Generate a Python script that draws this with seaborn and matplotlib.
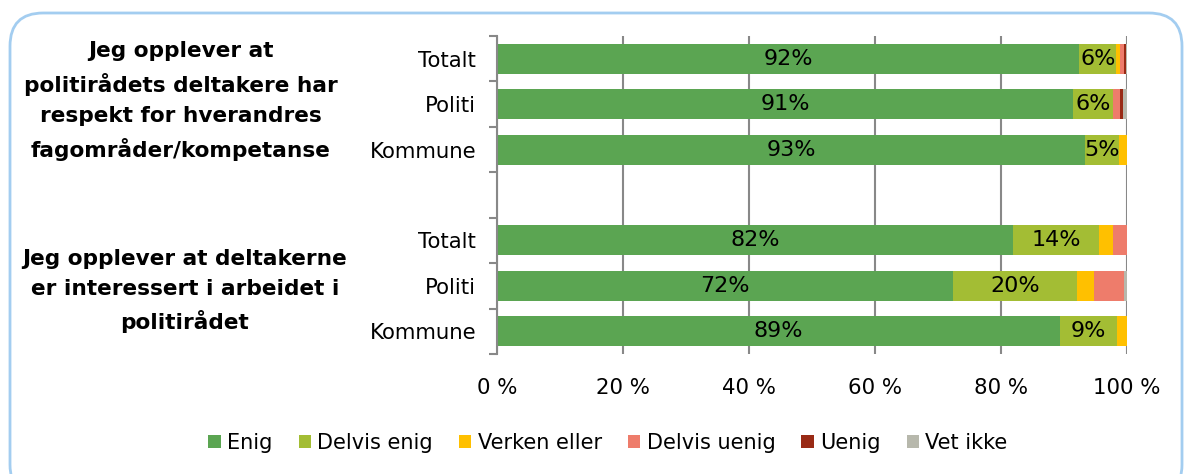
import pandas as pd
import matplotlib.pyplot as plt
import seaborn as sns
from matplotlib.patches import FancyBboxPatch, Patch

# categories and values (share of answers, %)
categories = ['Enig', 'Delvis enig', 'Verken eller', 'Delvis uenig', 'Uenig', 'Vet ikke']
colors = ['#5BA552', '#A3BD34', '#FFC000', '#EE7C6B', '#992A15', '#B7B8AC']
rows = ['Totalt', 'Politi', 'Kommune']

q1_totalt = [92.4, 5.9, 0.6, 0.6, 0.4, 0.1]
q1_politi = [91.4, 6.4, 0.0, 1.1, 0.5, 0.6]
q1_kommune = [93.4, 5.3, 1.3, 0.0, 0.0, 0.0]
q2_totalt = [81.9, 13.7, 2.1, 2.3, 0.0, 0.0]
q2_politi = [72.4, 19.7, 2.7, 4.7, 0.0, 0.5]
q2_kommune = [89.4, 9.0, 1.6, 0.0, 0.0, 0.0]

questions = ['Jeg opplever at\npolitirådets deltakere har\nrespekt for hverandres\nfagområder/kompetanse',
             'Jeg opplever at deltakerne\ner interessert i arbeidet i\npolitirådet']
xticklabels = ['0 %', '20 %', '40 %', '60 %', '80 %', '100 %']

# build long table
series = {'1 Totalt': q1_totalt, '1 Politi': q1_politi, '1 Kommune': q1_kommune,
          '2 Totalt': q2_totalt, '2 Politi': q2_politi, '2 Kommune': q2_kommune}
order = ['1 Totalt', '1 Politi', '1 Kommune', 'gap', '2 Totalt', '2 Politi', '2 Kommune']
df = pd.DataFrame(series, index=categories).T
left = df.cumsum(axis=1) - df

fig = plt.figure(figsize=(11.84, 4.74), dpi=100)
ax = fig.add_axes([0.4198, 0.2532, 0.5321, 0.6709])

for i, cat in enumerate(categories):
    d = pd.DataFrame({'slot': df.index, 'val': df[cat].values, 'left': left[cat].values})
    sns.barplot(data=d, x='val', y='slot', order=order, color=colors[i], width=0.66,
                left=d['left'].values, linewidth=0, saturation=1, ax=ax)

# value labels on Enig and Delvis enig
for i in range(2):
    cont = ax.containers[i]
    labs = [f'{round(v)}%' for v in df[categories[i]].values]
    ax.bar_label(cont, labels=labs, label_type='center', fontsize=16, color='black')

ax.set_xlim(0, 100)
ax.set_ylim(6.5, -0.5)
ax.set_xticks([0, 20, 40, 60, 80, 100])
ax.set_xticklabels(xticklabels, fontsize=15.3)
ax.tick_params(axis='x', length=0, pad=17)
ax.set_yticks(range(7))
ax.set_yticklabels(rows + [''] + rows, fontsize=15.3)
ax.tick_params(axis='y', length=0, pad=15)
ax.set_yticks([i - 0.5 for i in range(8)], minor=True)
ax.tick_params(axis='y', which='minor', length=6, color='#888888', width=1.5)
ax.set_xlabel('')
ax.set_ylabel('')
ax.grid(axis='x', color='#888888', linewidth=1.5)
ax.set_axisbelow(True)
for s in ['top', 'right', 'bottom']:
    ax.spines[s].set_visible(False)
ax.spines['left'].set_color('#888888')
ax.spines['left'].set_linewidth(1.5)

# question texts
fig.text(181 / 1184, 1 - 101 / 474, questions[0], ha='center', va='center',
         fontsize=15.6, fontweight='bold', linespacing=1.62)
fig.text(185 / 1184, 1 - 291 / 474, questions[1], ha='center', va='center',
         fontsize=15.6, fontweight='bold', linespacing=1.62)

# legend
handles = [Patch(facecolor=c, label=l) for c, l in zip(colors, categories)]
fig.legend(handles=handles, loc='center', bbox_to_anchor=(608 / 1184, 1 - 443 / 474),
           ncol=6, frameon=False, fontsize=15, handlelength=0.6, handleheight=0.6,
           handletextpad=0.3, columnspacing=1.25)

# rounded border
box = FancyBboxPatch((10 / 1184, -0.05), 1172 / 1184, 1.05 - 13 / 474,
                     boxstyle='round,pad=0,rounding_size=0.028', transform=fig.transFigure,
                     facecolor='none', edgecolor='#A3CDF0', linewidth=2, mutation_aspect=1184 / 474)
fig.patches.append(box)

fig.savefig('out.png', dpi=100)
